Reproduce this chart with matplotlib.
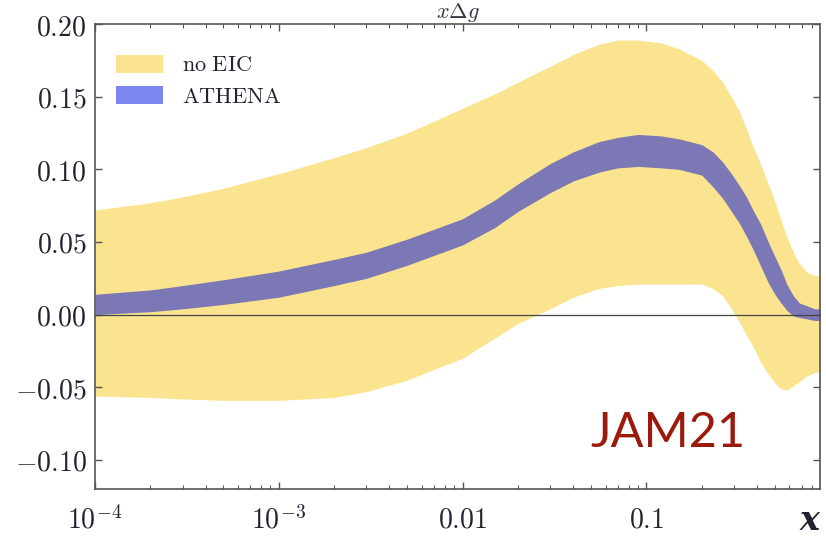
import numpy as np
import matplotlib
matplotlib.use('Agg')
import matplotlib.pyplot as plt
from matplotlib.patches import Patch
from matplotlib.ticker import FixedLocator, FixedFormatter, LogLocator, NullFormatter

plt.rcParams['mathtext.fontset'] = 'cm'

# x values
x = [1e-4, 2e-4, 3e-4, 5e-4, 1e-3, 2e-3, 3e-3, 5e-3, 0.01, 0.015, 0.02,
     0.03, 0.04, 0.055, 0.07, 0.09, 0.12, 0.15, 0.2, 0.23, 0.26, 0.29,
     0.32, 0.35, 0.38, 0.42, 0.46, 0.5, 0.54, 0.58, 0.63, 0.68, 0.75, 0.82, 0.88]

# no EIC band
noeic_hi = [0.072, 0.077, 0.081, 0.087, 0.097, 0.108, 0.115, 0.125, 0.142, 0.152, 0.160,
            0.171, 0.179, 0.186, 0.189, 0.189, 0.187, 0.183, 0.175, 0.168, 0.160, 0.150,
            0.140, 0.128, 0.116, 0.103, 0.090, 0.078, 0.065, 0.054, 0.043, 0.035, 0.029, 0.027, 0.027]
noeic_lo = [-0.056, -0.057, -0.058, -0.059, -0.059, -0.057, -0.053, -0.045, -0.030, -0.016, -0.006,
            0.004, 0.012, 0.018, 0.020, 0.021, 0.021, 0.021, 0.021, 0.018, 0.013, 0.004,
            -0.005, -0.014, -0.022, -0.033, -0.041, -0.047, -0.051, -0.052, -0.049, -0.046, -0.042, -0.040, -0.039]

# ATHENA band
athena_hi = [0.014, 0.017, 0.020, 0.024, 0.030, 0.038, 0.043, 0.052, 0.066, 0.079, 0.090,
             0.104, 0.112, 0.119, 0.122, 0.124, 0.123, 0.121, 0.117, 0.112, 0.105, 0.097,
             0.089, 0.081, 0.072, 0.062, 0.050, 0.040, 0.031, 0.021, 0.013, 0.008, 0.006, 0.004, 0.004]
athena_lo = [0.000, 0.002, 0.004, 0.007, 0.012, 0.020, 0.025, 0.034, 0.048, 0.060, 0.071,
             0.084, 0.092, 0.098, 0.101, 0.102, 0.101, 0.100, 0.096, 0.088, 0.080, 0.071,
             0.063, 0.054, 0.045, 0.033, 0.022, 0.014, 0.008, 0.003, -0.001, -0.002, -0.003, -0.004, -0.004]

yticks = [-0.10, -0.05, 0.00, 0.05, 0.10, 0.15, 0.20]
ytick_labels = [r'$-0.10$', r'$-0.05$', r'$0.00$', r'$0.05$', r'$0.10$', r'$0.15$', r'$0.20$']
xticks = [1e-4, 1e-3, 1e-2, 1e-1]
xtick_labels = [r'$10^{-4}$', r'$10^{-3}$', r'$0.01$', r'$0.1$']

yellow = '#fbe48f'
band_blue = '#7b78b5'
legend_blue = '#7d87f2'
frame = '#555555'

fig = plt.figure(figsize=(8.26, 5.46), dpi=100)
ax = fig.add_axes([95 / 826, 1 - 489 / 546, 725 / 826, 465 / 546])

ax.fill_between(x, noeic_lo, noeic_hi, color=yellow, lw=0, zorder=1)
ax.fill_between(x, athena_lo, athena_hi, color=band_blue, lw=0, zorder=2)
ax.axhline(0, color='#444444', lw=0.9, zorder=3)

ax.set_xscale('log')
ax.set_xlim(1e-4, 0.88)
ax.set_ylim(-0.12, 0.20)

ax.xaxis.set_major_locator(FixedLocator(xticks))
ax.xaxis.set_major_formatter(FixedFormatter(xtick_labels))
ax.xaxis.set_minor_locator(LogLocator(base=10, subs=np.arange(2, 10)))
ax.xaxis.set_minor_formatter(NullFormatter())
ax.yaxis.set_major_locator(FixedLocator(yticks))
ax.yaxis.set_major_formatter(FixedFormatter(ytick_labels))

ax.tick_params(which='both', direction='in', top=True, right=True, color=frame,
               labelsize=20, labelcolor='#222233')
ax.tick_params(which='major', length=5, width=1)
ax.tick_params(which='minor', length=3, width=0.8)
ax.tick_params(axis='x', pad=12)
ax.tick_params(axis='y', pad=6)
for s in ax.spines.values():
    s.set_color(frame)
    s.set_linewidth(1.2)

ax.set_title(r'$x\Delta g$', fontsize=16, color='#333344', pad=2.5)

handles = [Patch(facecolor=yellow, edgecolor='none'),
           Patch(facecolor=legend_blue, edgecolor='none')]
ax.legend(handles, [r'$\mathrm{no\ EIC}$', r'$\mathrm{ATHENA}$'], loc='upper left',
          bbox_to_anchor=(0.029, 0.934), frameon=False, fontsize=16, borderpad=0,
          borderaxespad=0, handlelength=2.1, handleheight=0.86, handletextpad=0.85,
          labelspacing=0.5, labelcolor='#222233')

ax.text(0.683, 0.09, 'JAM21', transform=ax.transAxes, fontsize=35, family='Lato',
        color='#9b1a0c', va='baseline', ha='left')

fig.text(810 / 826, 1 - 530 / 546, 'x', fontsize=24, family='DejaVu Serif',
         style='italic', weight='bold', color='#222233', ha='center', va='baseline')

fig.savefig('out.png', dpi=100)
